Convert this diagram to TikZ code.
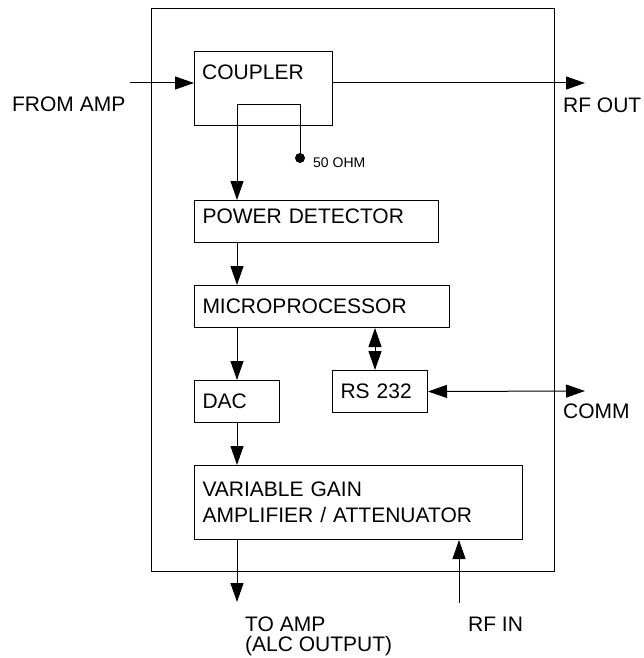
\documentclass[tikz,border=0pt]{standalone}
\usepackage{fontspec}
\setmainfont{Liberation Sans}
\usetikzlibrary{arrows.meta, positioning, calc}

\begin{document}
\begin{tikzpicture}[x=0.5pt, y=-0.5pt,
    font=\fontsize{10.5}{13}\selectfont,
    line width=0.5pt,
    tip/.style={-{Triangle[length=9.5pt, width=6.5pt]}},
    twotip/.style={{Triangle[length=9.5pt, width=6.5pt]}-{Triangle[length=9.5pt, width=6.5pt]}},
    block/.style={draw, rectangle, anchor=north west, inner xsep=4pt, align=left, minimum height=21pt}]
  \useasboundingbox (0,0) rectangle (643,658);
  % housing
  \draw (151,9) rectangle (554,571);
  % blocks
  \node[block, minimum width=69pt, minimum height=37pt,
    label={[name=couplertext, anchor=north west, xshift=0.5pt, yshift=-3.5pt]north west:COUPLER}] (coupler) at (194,51) {};
  \node[block, text width=114pt, text depth=5pt] (pd) at (194,200) {POWER DETECTOR};
  \node[block, text width=119.5pt] (mp) at (194,285) {MICROPROCESSOR};
  \node[block, text width=34.5pt] (dac) at (194,380) {DAC};
  \node[block, text width=39.5pt] (rs) at (332,370) {RS 232};
  \node[block, text width=156pt, minimum height=37pt] (vga) at (194,465) {VARIABLE GAIN\\AMPLIFIER / ATTENUATOR};
  % end points
  \coordinate (in) at (130,83);
  \coordinate (rfout) at (585,83);
  \coordinate (comm) at (585,391);
  \coordinate (tap) at (237,105);
  \coordinate (ohm) at (300,158);
  \coordinate (bus) at (375,0);
  \coordinate (toamp) at (237,602);
  \coordinate (rfin) at (459,603);
  % signal path
  \draw[tip] (in) -- (in -| coupler.west);
  \draw[tip] (in -| coupler.east) -- (rfout);
  \draw[tip] (ohm) |- (tap) -- (tap |- pd.north);
  \fill (ohm) circle (2.5pt);
  \draw[tip] (tap |- pd.south) -- (tap |- mp.north);
  \draw[tip] (tap |- mp.south) -- (tap |- dac.north);
  \draw[tip] (tap |- dac.south) -- (tap |- vga.north);
  \draw[tip] (tap |- vga.south) -- (toamp);
  \draw[tip] (rfin) -- (rfin |- vga.south);
  \draw[twotip] (bus |- mp.south) -- (bus |- rs.north);
  \draw[twotip] (rs.east) -- (comm);
  % labels
  \node[anchor=west, font=\fontsize{7}{8}\selectfont] (ohmtext) at (306,163) {50 OHM};
  \node[anchor=west] (fromamp) at (5,104) {FROM AMP};
  \node[anchor=west] (rfouttext) at (556,105) {RF OUT};
  \node[anchor=west] (commtext) at (556,411) {COMM};
  \node[anchor=north west, align=left, font=\fontsize{10.5}{10}\selectfont] (toamptext) at (238,610) {TO AMP\\(ALC OUTPUT)};
  \node[anchor=north west] (rfintext) at (461,610) {RF IN};
\end{tikzpicture}
\end{document}
